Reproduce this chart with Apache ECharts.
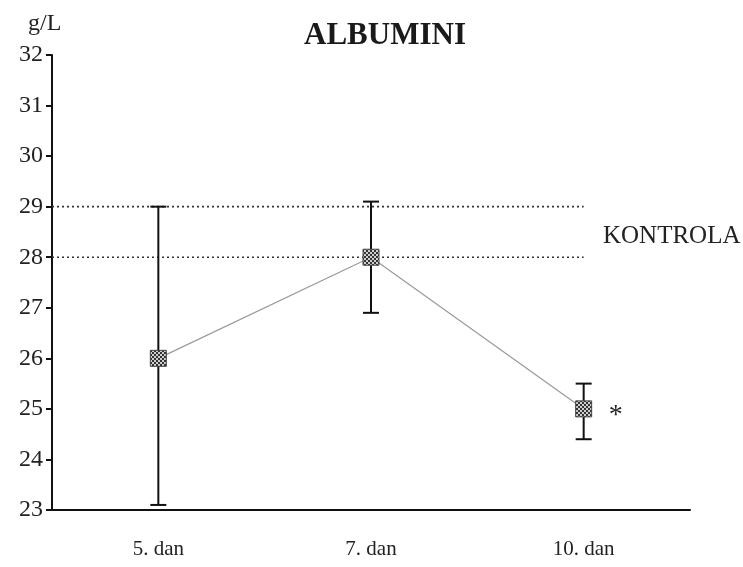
<!DOCTYPE html>
<html><head><meta charset="utf-8">
<script src="https://cdn.jsdelivr.net/npm/echarts@6/dist/echarts.min.js"></script>
<style>html,body{margin:0;padding:0;background:#fff}#c{width:743px;height:567px}</style>
</head><body><div id="c"></div>
<script>
// ---- data ----
const categories = ['5. dan', '7. dan', '10. dan'];
const means = [26, 28, 25];
const lower = [23.1, 26.9, 24.4];
const upper = [29.0, 29.1, 25.5];
const marks = ['', '', '*'];
const controlValues = [28, 29];
const controlSpan = [0, 2.5];
const yMin = 23, yMax = 32, yInterval = 1;

// ---- pattern for markers ----
function makePattern() {
  const c = document.createElement('canvas');
  c.width = 4; c.height = 4;
  const g = c.getContext('2d');
  g.fillStyle = '#cfcfcf'; g.fillRect(0, 0, 4, 4);
  g.fillStyle = '#333';
  g.fillRect(0, 0, 2, 2); g.fillRect(2, 2, 2, 2);
  return c;
}
const pattern = {image: makePattern(), repeat: 'repeat'};

const FONT = 'Liberation Serif';
const chart = echarts.init(document.getElementById('c'), null, {renderer: 'canvas'});

const errData = categories.map((c, i) => [i, lower[i], upper[i], means[i], marks[i]]);
const controlSeries = controlValues.map(v => ({
  type: 'line', xAxisIndex: 1, yAxisIndex: 0, symbol: 'none', silent: true,
  data: [[controlSpan[0], v], [controlSpan[1], v]],
  lineStyle: {color: '#333', width: 1.6, type: [2, 3]}, z: 2
}));

chart.setOption({
  animation: false,
  backgroundColor: '#fff',
  title: {
    text: 'ALBUMINI', left: 380, top: 15, textAlign: 'center',
    textStyle: {fontFamily: FONT, fontWeight: 'bold', fontSize: 31, color: '#1a1a1a'}
  },
  grid: {left: 52, top: 55, width: 638, bottom: 57, containLabel: false},
  xAxis: [{
    type: 'category', data: categories, boundaryGap: true,
    axisLine: {lineStyle: {color: '#111', width: 2}},
    axisTick: {alignWithLabel: true, length: 9, lineStyle: {color: '#111', width: 2}},
    axisLabel: {fontFamily: FONT, fontSize: 21, color: '#222', margin: 29},
    splitLine: {show: false}
  }, {
    type: 'value', min: 0, max: 3, show: false
  }],
  yAxis: {
    type: 'value', min: yMin, max: yMax, interval: yInterval,
    axisLine: {show: true, lineStyle: {color: '#111', width: 2}},
    axisTick: {show: true, length: 6, lineStyle: {color: '#111', width: 2}},
    axisLabel: {fontFamily: FONT, fontSize: 24, color: '#222', margin: 9},
    splitLine: {show: false}
  },
  graphic: [
    {type: 'text', left: 28, top: 12, style: {text: 'g/L', font: '24px "Liberation Serif"', fill: '#222'}},
    {type: 'text', left: 603, top: 224, style: {text: 'KONTROLA', font: '25px "Liberation Serif"', fill: '#222'}}
  ],
  series: [
    ...controlSeries,
    {
      type: 'line', data: means, symbol: 'none', silent: true,
      lineStyle: {color: '#9a9a9a', width: 1.2}, z: 3
    },
    {
      type: 'custom', data: errData, z: 5,
      encode: {x: 0, y: [1, 2]},
      renderItem: function (params, api) {
        const x = api.coord([api.value(0), 0])[0];
        const lo = api.coord([api.value(0), api.value(1)])[1];
        const hi = api.coord([api.value(0), api.value(2)])[1];
        const m = api.coord([api.value(0), api.value(3)])[1];
        const cap = 8, s = 8;
        const stroke = {stroke: '#111', lineWidth: 2};
        const children = [
          {type: 'line', shape: {x1: x, y1: lo, x2: x, y2: hi}, style: stroke},
          {type: 'line', shape: {x1: x - cap, y1: hi, x2: x + cap, y2: hi}, style: stroke},
          {type: 'line', shape: {x1: x - cap, y1: lo, x2: x + cap, y2: lo}, style: stroke},
          {type: 'rect', shape: {x: x - s, y: m - s, width: 2 * s, height: 2 * s},
            style: {fill: pattern, stroke: '#444', lineWidth: 1}}
        ];
        const mk = api.value(4);
        if (mk) {
          children.push({type: 'text', x: x + 32, y: m + 7,
            style: {text: mk, font: '28px "Liberation Serif"', fill: '#222', align: 'center', verticalAlign: 'middle'}});
        }
        return {type: 'group', children: children};
      }
    }
  ]
});
</script>
</body></html>
